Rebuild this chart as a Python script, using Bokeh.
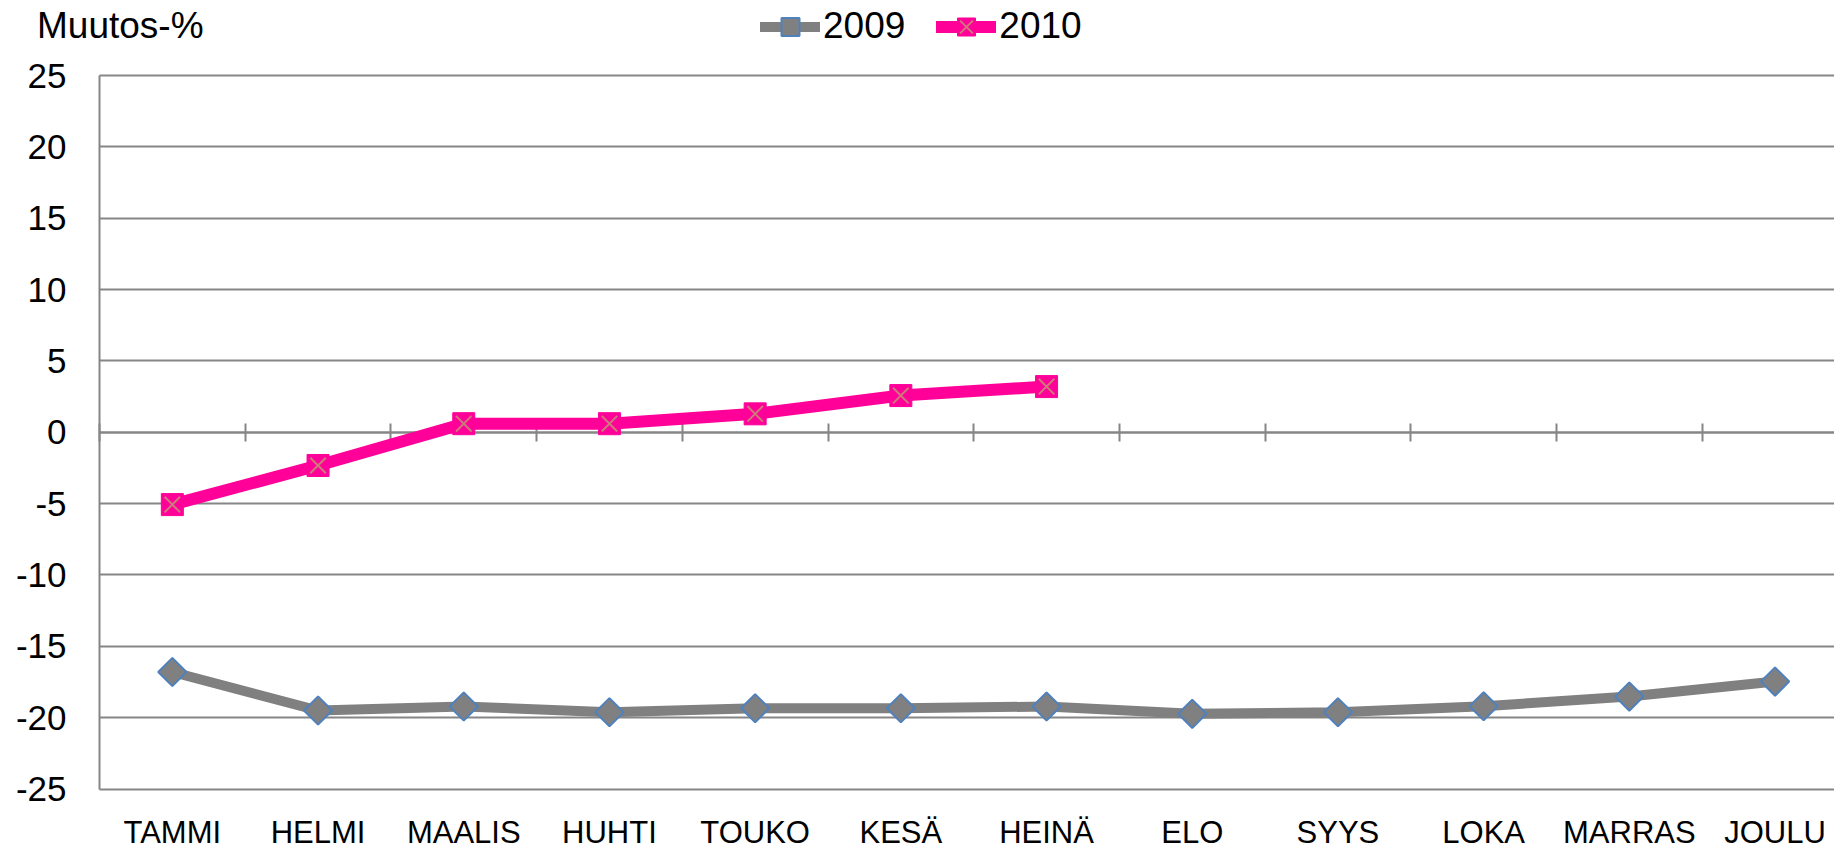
import math
from bokeh.plotting import figure
from bokeh.models import (Range1d, FixedTicker, LinearAxis, Legend, LegendItem,
                          ColumnDataSource, Label)
from bokeh.embed import file_html
from bokeh.resources import INLINE

months = ["TAMMI", "HELMI", "MAALIS", "HUHTI", "TOUKO", "KESÄ", "HEINÄ",
          "ELO", "SYYS", "LOKA", "MARRAS", "JOULU"]
values_2009 = [-16.8, -19.5, -19.22, -19.62, -19.34, -19.34, -19.22,
               -19.73, -19.62, -19.2, -18.52, -17.47]
values_2010 = [-5.07, -2.33, 0.6, 0.6, 1.29, 2.57, 3.2]
y_ticks = [-25, -20, -15, -10, -5, 0, 5, 10, 15, 20, 25]
series_names = ["2009", "2010"]
y_title = "Muutos-%"

GRAY = "#868686"
LINE_GRAY = "#808080"
PINK = "#FF0099"
FONT = "Liberation Sans"

W, H = 1834, 850
# frame fills the whole canvas; axes are placed inside it
PX_X = 145.7          # pixels per category
PX_Y = 14.27          # pixels per percent
AX_LEFT, AX_TOP, AX_BOTTOM = 99, 75, 788.5
x_start = -0.5 - AX_LEFT / PX_X
x_end = x_start + W / PX_X
y_top = y_ticks[-1] + AX_TOP / PX_Y
y_bottom = y_ticks[0] - (H - AX_BOTTOM) / PX_Y

src09 = ColumnDataSource(dict(x=list(range(len(values_2009))), y=values_2009))
src10 = ColumnDataSource(dict(x=list(range(len(values_2010))), y=values_2010))

p = figure(width=W, height=H, output_backend="svg", toolbar_location=None,
           x_range=Range1d(x_start, x_end), y_range=Range1d(y_bottom, y_top),
           min_border=0, min_border_left=0, min_border_right=0,
           min_border_top=0, min_border_bottom=0)
p.outline_line_color = None
p.background_fill_color = "white"
p.border_fill_color = "white"
p.xgrid.visible = False
p.ygrid.visible = False

# value axis at the left edge of the category range; its inward ticks
# span the plot area and act as the horizontal gridlines
ya = p.yaxis[0]
ya.level = "underlay"
ya.fixed_location = -0.5
ya.bounds = (y_ticks[0], y_ticks[-1])
ya.ticker = FixedTicker(ticks=y_ticks)
ya.major_label_overrides = {t: str(t) for t in y_ticks}
ya.axis_line_color = GRAY
ya.axis_line_width = 2
ya.major_tick_line_color = GRAY
ya.major_tick_line_width = 2
ya.minor_tick_line_color = None
ya.major_tick_out = 0
ya.major_tick_in = int(round((x_end + 0.5) * PX_X))
ya.major_label_standoff = 33
ya.major_label_text_font = FONT
ya.major_label_text_font_size = "35px"
ya.major_label_text_color = "black"

# category axis line at zero with ticks between categories
xa = p.xaxis[0]
xa.level = "underlay"
xa.fixed_location = 0
xa.bounds = (-0.5, x_end)
xa.ticker = FixedTicker(ticks=[i - 0.5 for i in range(len(months))])
xa.axis_line_color = GRAY
xa.axis_line_width = 2
xa.major_tick_line_color = GRAY
xa.major_tick_line_width = 2
xa.major_tick_in = 9
xa.major_tick_out = 9
xa.minor_tick_line_color = None
xa.major_label_text_font_size = "0px"
xa.major_label_text_alpha = 0

# category labels below the plot area
la = LinearAxis(fixed_location=y_ticks[0],
                ticker=FixedTicker(ticks=list(range(len(months)))),
                major_label_overrides={i: m for i, m in enumerate(months)},
                axis_line_color=None, major_tick_line_color=None,
                minor_tick_line_color=None, major_tick_out=0, major_tick_in=0,
                major_label_standoff=26, major_label_text_font=FONT,
                major_label_text_font_size="31px",
                major_label_text_color="black")
p.add_layout(la, "below")

# series
l09 = p.line("x", "y", source=src09, line_color=LINE_GRAY, line_width=10,
             line_join="round", line_cap="round")
m09 = p.scatter("x", "y", source=src09, marker="square", angle=math.pi / 4,
                size=20, fill_color=LINE_GRAY, line_color="#4F81BD",
                line_width=2)
l10 = p.line("x", "y", source=src10, line_color=PINK, line_width=12,
             line_join="round", line_cap="round")
s10 = p.scatter("x", "y", source=src10, marker="square", size=22,
                fill_color=PINK, line_color=PINK, line_width=1)
x10m = p.scatter("x", "y", source=src10, marker="x", size=22,
                 line_color="#CC7A7A", line_width=2)

# value-axis title
p.add_layout(Label(x=36.5, y=H - 25, x_units="screen", y_units="screen",
                   text=y_title, text_font=FONT, text_font_size="37px",
                   text_color="black", text_baseline="alphabetic",
                   text_align="left"))

legend = Legend(items=[LegendItem(label=series_names[0], renderers=[l09, m09]),
                       LegendItem(label=series_names[1], renderers=[l10, s10, x10m])],
                location=(760, 801.5), orientation="horizontal",
                glyph_width=60, glyph_height=45, label_standoff=3, spacing=31,
                padding=0, margin=0, border_line_color=None,
                background_fill_alpha=0,
                label_text_font=FONT, label_text_font_size="37px",
                label_text_color="black")
p.add_layout(legend, "center")

open("out.html", "w").write(file_html(p, INLINE))
